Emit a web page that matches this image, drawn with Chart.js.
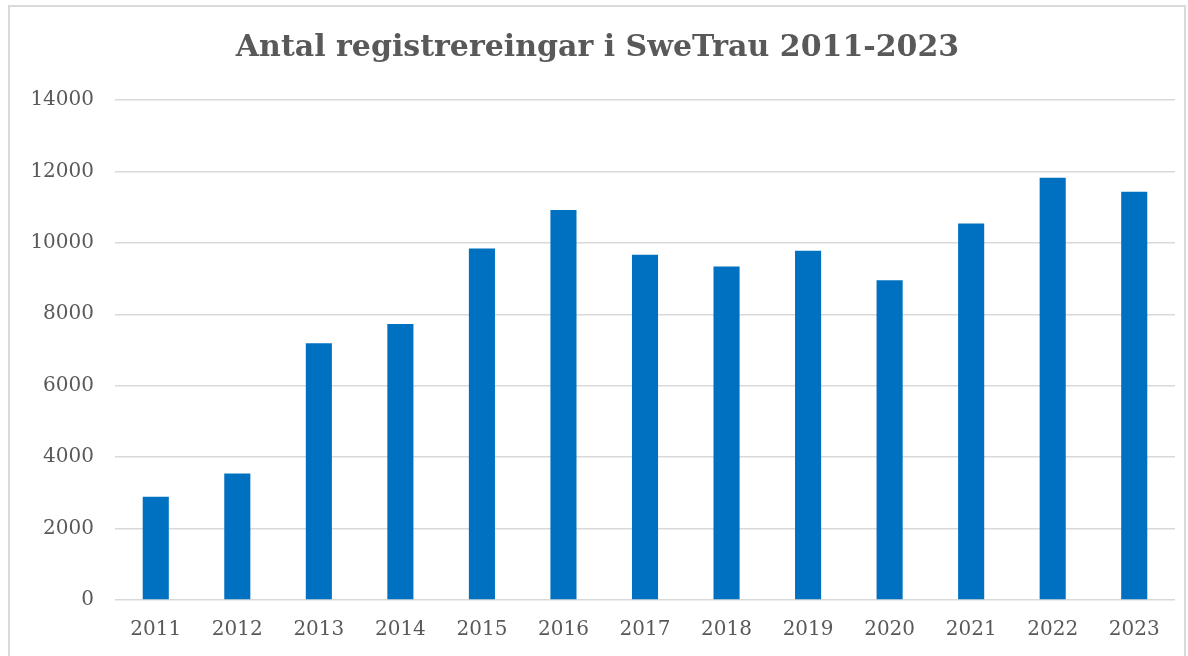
<!DOCTYPE html>
<html>
<head>
<meta charset="utf-8">
<script src="https://cdn.jsdelivr.net/npm/chart.js@4"></script>
<style>
  body { margin: 0; background: #fff; overflow: hidden; }
  #frame { position: absolute; left: 8px; top: 5px; width: 1174px; height: 670px; border: 2px solid #d9d9d9; }
  #wrap { position: absolute; left: 0; top: 0; width: 1188px; height: 656px; }
</style>
</head>
<body>
<div id="frame"></div>
<div id="wrap"><canvas id="regChart"></canvas></div>
<script>
const years = ['2011', '2012', '2013', '2014', '2015', '2016', '2017', '2018', '2019', '2020', '2021', '2022', '2023'];
const registrations = [2890, 3540, 7190, 7730, 9840, 10920, 9670, 9340, 9780, 8950, 10540, 11820, 11430];
const yTicks = [0, 2000, 4000, 6000, 8000, 10000, 12000, 14000];

const textColor = '#595959';
const ctx = document.getElementById('regChart').getContext('2d');
const regChart = new Chart(ctx, {
  type: 'bar',
  data: {
    labels: years,
    datasets: [{
      label: 'Registreringar',
      data: registrations,
      backgroundColor: '#0070c0',
      borderWidth: 0,
      categoryPercentage: 1,
      barPercentage: 0.32
    }]
  },
  options: {
    responsive: true,
    maintainAspectRatio: false,
    animation: false,
    layout: {
      padding: { left: 20, right: 13, bottom: 0, top: 0 }
    },
    scales: {
      x: {
        afterFit: (scale) => { scale.height = 56; },
        grid: { display: false, drawTicks: false },
        border: { display: false },
        ticks: {
          color: textColor,
          padding: 18,
          font: { family: 'DejaVu Serif', size: 20 }
        }
      },
      y: {
        min: 0,
        max: 14000,
        afterBuildTicks: (scale) => { scale.ticks = yTicks.map(v => ({ value: v })); },
        afterFit: (scale) => { scale.width = 95; },
        grid: { color: '#d9d9d9', lineWidth: 1.5, drawTicks: false },
        border: { display: false },
        ticks: {
          color: textColor,
          padding: 21,
          font: { family: 'DejaVu Serif', size: 20 },
          callback: (v) => String(v)
        }
      }
    },
    plugins: {
      legend: { display: false },
      tooltip: { enabled: false },
      title: {
        display: true,
        text: 'Antal registrereingar i SweTrau 2011-2023',
        color: textColor,
        font: { family: 'DejaVu Serif', size: 30, weight: 'bold' },
        padding: { top: 30, bottom: 34 }
      }
    }
  }
});
</script>
</body>
</html>
